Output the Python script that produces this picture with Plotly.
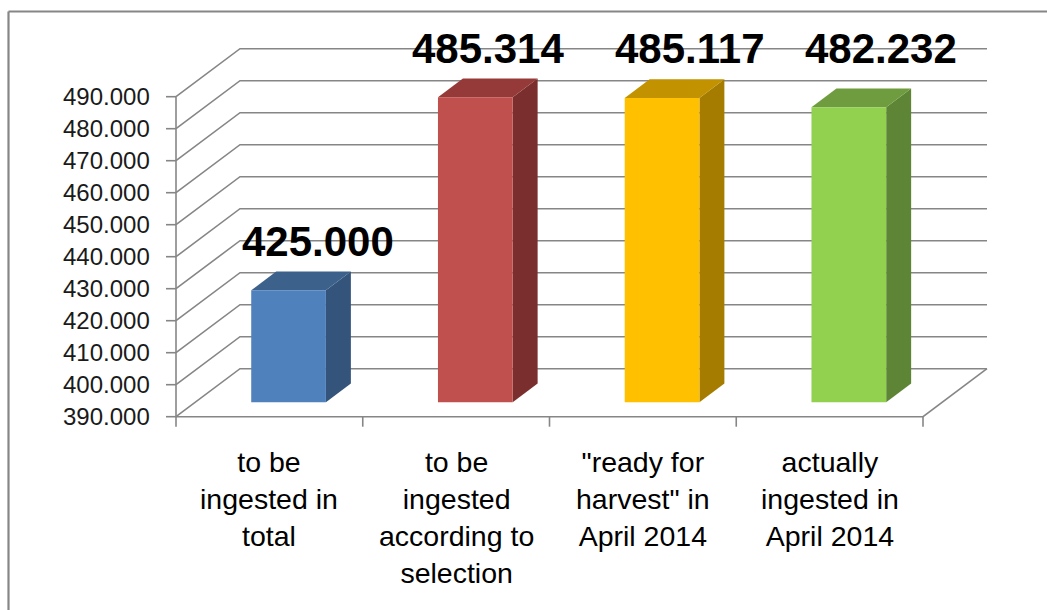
import plotly.graph_objects as go

# ---------------- data ----------------
categories = [
    "to be<br>ingested in<br>total",
    "to be<br>ingested<br>according to<br>selection",
    "\"ready for<br>harvest\" in<br>April 2014",
    "actually<br>ingested in<br>April 2014",
]
values = [425.000, 485.314, 485.117, 482.232]
value_labels = ["425.000", "485.314", "485.117", "482.232"]
y_ticks = [390, 400, 410, 420, 430, 440, 450, 460, 470, 480, 490]
y_tick_labels = ["390.000", "400.000", "410.000", "420.000", "430.000", "440.000",
                 "450.000", "460.000", "470.000", "480.000", "490.000"]

# ---------------- styles / geometry ----------------
front_colors = ["#4F81BD", "#C0504D", "#FFC000", "#92D050"]
top_colors = ["#3C628C", "#953A38", "#C29200", "#6F9C3E"]
side_colors = ["#34547C", "#7A2F2E", "#A67C00", "#5E8535"]
GRID = "#868686"
W, H = 1047, 610
PXX = 186.75      # pixels per category
PXY = 3.2         # pixels per value unit
X0PX = 176.0      # pixel of front-left corner
Y0PX = 416.7      # pixel of value 390 on the front plane
YMIN = y_ticks[0]
YMAX = y_ticks[-1]
NCAT = len(categories)
DX = 64 / PXX     # depth offset of the back wall (x units)
DY = 48 / PXY     # depth offset of the back wall (value units)
BAR_W = 0.4
BAR_D0 = 0.3      # bar front face depth fraction
BAR_DEPTH = 0.39  # bar depth fraction
LABEL_DX_PX = [49, 32, 47, 51]
LABEL_TOP = 505.0

xr = [-X0PX / PXX, (W - X0PX) / PXX]
yr = [YMIN - (H - Y0PX) / PXY, YMIN + Y0PX / PXY]

fig = go.Figure()

# gridlines: left wall diagonals + back wall horizontals
gx, gy = [], []
for v in y_ticks:
    gx += [0, DX, NCAT + DX, None]
    gy += [v, v + DY, v + DY, None]
# floor front + right edge
gx += [0, NCAT, NCAT + DX, None]
gy += [YMIN, YMIN, YMIN + DY, None]
fig.add_trace(go.Scatter(x=gx, y=gy, mode="lines", line=dict(color=GRID, width=1.6),
                         hoverinfo="skip", showlegend=False))

# front axis line, value ticks, category ticks
ax, ay = [0, 0, None], [YMIN - 10 / PXY, YMAX, None]
for v in y_ticks:
    ax += [0, -10 / PXX, None]
    ay += [v, v, None]
for i in range(1, NCAT + 1):
    ax += [i, i, None]
    ay += [YMIN, YMIN - 10 / PXY, None]
fig.add_trace(go.Scatter(x=ax, y=ay, mode="lines", line=dict(color=GRID, width=1.6),
                         hoverinfo="skip", showlegend=False))

# bars (front, side, top faces)
fdx = BAR_D0 * DX
fdy = BAR_D0 * DY
sdx = BAR_DEPTH * DX
sdy = BAR_DEPTH * DY
for i, v in enumerate(values):
    c = i + 0.5 + fdx
    xl, xrr = c - BAR_W / 2, c + BAR_W / 2
    b = YMIN + fdy
    t = v + fdy
    # side
    fig.add_trace(go.Scatter(x=[xrr, xrr + sdx, xrr + sdx, xrr, xrr],
                             y=[b, b + sdy, t + sdy, t, b],
                             fill="toself", fillcolor=side_colors[i], mode="lines",
                             line=dict(width=0, color=side_colors[i]),
                             hoverinfo="skip", showlegend=False))
    # top
    fig.add_trace(go.Scatter(x=[xl, xl + sdx, xrr + sdx, xrr, xl],
                             y=[t, t + sdy, t + sdy, t, t],
                             fill="toself", fillcolor=top_colors[i], mode="lines",
                             line=dict(width=0, color=top_colors[i]),
                             hoverinfo="skip", showlegend=False))
    # front
    fig.add_trace(go.Scatter(x=[xl, xrr, xrr, xl, xl],
                             y=[b, b, t, t, b],
                             fill="toself", fillcolor=front_colors[i], mode="lines",
                             line=dict(width=0, color=front_colors[i]),
                             hoverinfo="skip", showlegend=False))

annotations = []
# y tick labels
for v, lab in zip(y_ticks, y_tick_labels):
    annotations.append(dict(x=0, y=v, xref="x", yref="y", text=lab, showarrow=False,
                            xanchor="right", yanchor="middle", xshift=-24,
                            font=dict(family="Liberation Sans, Arial", size=24, color="#1a1a1a")))
# category labels
for i, cat in enumerate(categories):
    annotations.append(dict(x=i + 0.5, y=YMIN, xref="x", yref="y", text=cat, showarrow=False,
                            xanchor="center", yanchor="top", yshift=-27,
                            font=dict(family="Liberation Sans, Arial", size=28.5, color="#000000")))
# value labels
for i, (v, lab) in enumerate(zip(values, value_labels)):
    natural = v + fdy + sdy + 9.25
    ly = natural if natural < 490 else LABEL_TOP
    annotations.append(dict(x=i + 0.5, y=ly, xref="x", yref="y", text="<b>" + lab + "</b>",
                            showarrow=False, xanchor="center", yanchor="middle",
                            xshift=LABEL_DX_PX[i],
                            font=dict(family="Liberation Sans, Arial", size=42, color="#000000")))

shapes = [
    dict(type="line", xref="paper", yref="paper", x0=8.5 / W, x1=8.5 / W, y0=-0.05, y1=1 - 11.5 / H,
         line=dict(color="#868686", width=2.2)),
    dict(type="line", xref="paper", yref="paper", x0=8.5 / W, x1=1.05, y0=1 - 11.5 / H, y1=1 - 11.5 / H,
         line=dict(color="#868686", width=2.2)),
]

fig.update_layout(
    width=W, height=H,
    margin=dict(l=0, r=0, t=0, b=0),
    paper_bgcolor="white", plot_bgcolor="white",
    xaxis=dict(range=xr, visible=False, fixedrange=True),
    yaxis=dict(range=yr, visible=False, fixedrange=True),
    annotations=annotations,
    shapes=shapes,
    showlegend=False,
)

fig.write_html("out.html",
               config={"displayModeBar": False, "staticPlot": True},
               post_script="document.body.style.margin='0px';document.body.style.overflow='hidden';")
